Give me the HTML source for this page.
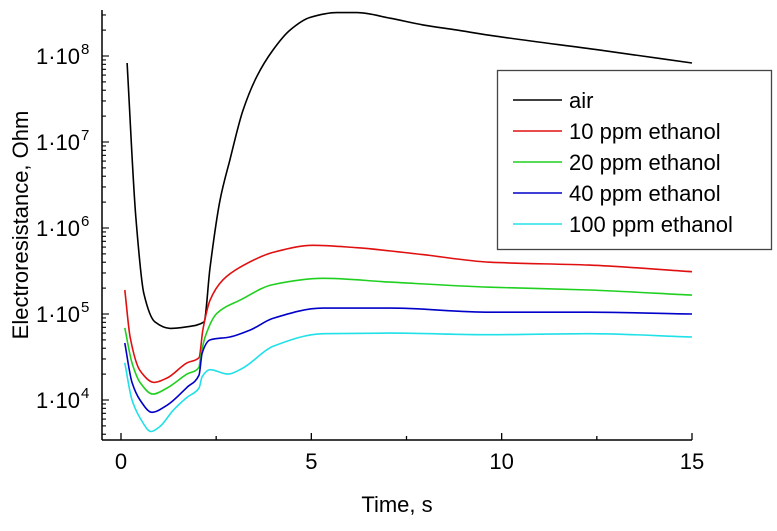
<!DOCTYPE html>
<html><head><meta charset="utf-8"><style>
body{margin:0;background:#fff;}
svg{font-family:"Liberation Sans",Arial,sans-serif;}
</style></head><body>
<svg id="chart" width="777" height="526" viewBox="0 0 777 526" xmlns="http://www.w3.org/2000/svg">
<g id="axes"></g>
<g id="series"></g>
<text x="397" y="512" font-size="22" text-anchor="middle">Time, s</text>
<text transform="translate(28,225) rotate(-90)" font-size="22" text-anchor="middle">Electroresistance, Ohm</text>
<g>
<rect x="497.5" y="70.5" width="274" height="179" fill="#fff" stroke="#444" stroke-width="1.3"/>
<g id="legend-items"></g>
</g>
</svg>
<script>
const xTicks=[0,5,10,15];
const xMinorTicks=[2.5,7.5,12.5];
const yDecades=[4,5,6,7,8];
const seriesNames=["air","10 ppm ethanol","20 ppm ethanol","40 ppm ethanol","100 ppm ethanol"];
const seriesColors=["#000000","#e01010","#20d020","#0000c8","#20e0e8"];
const airTime=[0.16,0.39,0.60,0.89,1.29,1.73,2.18,2.34,2.60,2.86,3.20,3.57,3.99,4.44,4.96,5.67,6.20,7.07,7.93,8.83,9.69,12.58,15];
const airR=[8.3e7,1.35e6,1.74e5,8.1e4,6.8e4,7.1e4,8.1e4,3.5e5,2.1e6,6.2e6,2.3e7,5.8e7,1.17e8,2.0e8,2.8e8,3.2e8,3.2e8,2.75e8,2.3e8,2.0e8,1.74e8,1.17e8,8.3e7];
const ppm10Time=[0.10,0.24,0.50,0.87,1.21,1.73,2.05,2.15,2.34,2.68,3.13,3.99,5.04,6.20,7.93,9.69,12.3,15];
const ppm10R=[1.9e5,5.4e4,2.2e4,1.6e4,1.8e4,2.7e4,3.1e4,6.5e4,1.45e5,2.5e5,3.5e5,5.2e5,6.3e5,5.9e5,4.9e5,4.0e5,3.7e5,3.1e5];
const ppm20Time=[0.10,0.29,0.50,0.84,1.21,1.73,2.05,2.08,2.21,2.52,3.13,3.99,5.31,7.07,9.69,12.3,15];
const ppm20R=[6.9e4,2.7e4,1.6e4,1.17e4,1.38e4,2.0e4,2.4e4,2.95e4,5.4e4,1.02e5,1.45e5,2.2e5,2.6e5,2.35e5,2.05e5,1.9e5,1.66e5];
const ppm40Time=[0.10,0.29,0.50,0.81,1.21,1.73,2.05,2.13,2.34,2.86,3.39,3.99,5.31,7.07,9.69,12.3,15];
const ppm40R=[4.6e4,1.6e4,1.0e4,7.2e3,8.7e3,1.4e4,1.95e4,3.5e4,5.0e4,5.4e4,6.5e4,8.9e4,1.17e5,1.17e5,1.05e5,1.05e5,1.0e5];
const ppm100Time=[0.10,0.29,0.50,0.79,1.02,1.37,1.73,2.05,2.13,2.34,2.81,3.20,3.99,5.31,7.07,9.69,12.3,15];
const ppm100R=[2.7e4,1.0e4,6.2e3,4.3e3,4.9e3,7.6e3,1.07e4,1.38e4,1.86e4,2.25e4,2.0e4,2.35e4,4.2e4,5.9e4,6.0e4,5.75e4,5.9e4,5.4e4];

const NS="http://www.w3.org/2000/svg";
const X0=102, X1=692, Ytop=10, Ybot=440;
function xs(t){return 121+t*(692-121)/15;}
function ys(r){return 56+(8-Math.log10(r))*86;}
function mk(tag,attrs,parent){const e=document.createElementNS(NS,tag);for(const k in attrs)e.setAttribute(k,attrs[k]);parent.appendChild(e);return e;}
function monoPath(P){
  const n=P.length;const dx=[],m=[],t=new Array(n);
  for(let i=0;i<n-1;i++){dx[i]=P[i+1][0]-P[i][0];m[i]=(P[i+1][1]-P[i][1])/dx[i];}
  t[0]=m[0];t[n-1]=m[n-2];
  for(let i=1;i<n-1;i++){
    if(m[i-1]*m[i]<=0)t[i]=0;
    else{const w1=2*dx[i]+dx[i-1],w2=dx[i]+2*dx[i-1];t[i]=(w1+w2)/(w1/m[i-1]+w2/m[i]);}
  }
  let d='M'+P[0][0].toFixed(1)+','+P[0][1].toFixed(1);
  for(let i=0;i<n-1;i++){
    const h=dx[i]/3;
    d+=' C'+(P[i][0]+h).toFixed(1)+','+(P[i][1]+t[i]*h).toFixed(1)+' '+(P[i+1][0]-h).toFixed(1)+','+(P[i+1][1]-t[i+1]*h).toFixed(1)+' '+P[i+1][0].toFixed(1)+','+P[i+1][1].toFixed(1);
  }
  return d;
}
const axes=document.getElementById('axes');
let l=mk('line',{x1:X0,y1:Ytop,x2:X0,y2:Ybot,stroke:'#000','stroke-width':1.5},axes);


l=mk('line',{x1:X0,y1:Ybot,x2:X1,y2:Ybot,stroke:'#000','stroke-width':1.5},axes);


xTicks.forEach(t=>{
  const tk=mk('line',{x1:xs(t),y1:Ybot,x2:xs(t),y2:Ybot-7,stroke:'#000','stroke-width':1.3},axes);
  
  
  const tx=mk('text',{x:xs(t),y:469,'font-size':22,'text-anchor':'middle'},axes);
  tx.textContent=String(t);
  
  
});
xMinorTicks.forEach(t=>{
  const tk=mk('line',{x1:xs(t),y1:Ybot,x2:xs(t),y2:Ybot-4,stroke:'#000','stroke-width':1.3},axes);
  
  
});
for(let d=3;d<=8;d++){
  for(let m=1;m<=9;m++){
    const v=m*Math.pow(10,d);const y=ys(v);
    if(y<Ytop||y>Ybot)continue;
    const tk=mk('line',{x1:X0,y1:y,x2:X0+(m==1?7:4),y2:y,stroke:'#000','stroke-width':1.1},axes);
    
    
  }
}
yDecades.forEach(d=>{
  const tx=mk('text',{x:80,y:ys(Math.pow(10,d))+8,'font-size':22,'text-anchor':'end'},axes);
  tx.textContent='1·10';
  
  
  const sup=mk('text',{x:81,y:ys(Math.pow(10,d))-2,'font-size':15},axes);
  sup.textContent=String(d);
  
  
});
const allT=[airTime,ppm10Time,ppm20Time,ppm40Time,ppm100Time];
const allR=[airR,ppm10R,ppm20R,ppm40R,ppm100R];
const sg=document.getElementById('series');
allT.forEach((ts,i)=>{
  const P=ts.map((t,j)=>[xs(t),ys(allR[i][j])]);
  const p=mk('path',{d:monoPath(P),fill:'none',stroke:seriesColors[i],'stroke-width':1.6,'stroke-linejoin':'round'},sg);
  
  
});
const lg=document.getElementById('legend-items');
seriesNames.forEach((n,i)=>{
  const y=100+i*31;
  const ln=mk('line',{x1:513,y1:y,x2:562,y2:y,stroke:seriesColors[i],'stroke-width':1.6},lg);
  
  
  const tx=mk('text',{x:569,y:y+8,'font-size':22},lg);
  tx.textContent=n;
  
  
});
</script>
</body></html>
